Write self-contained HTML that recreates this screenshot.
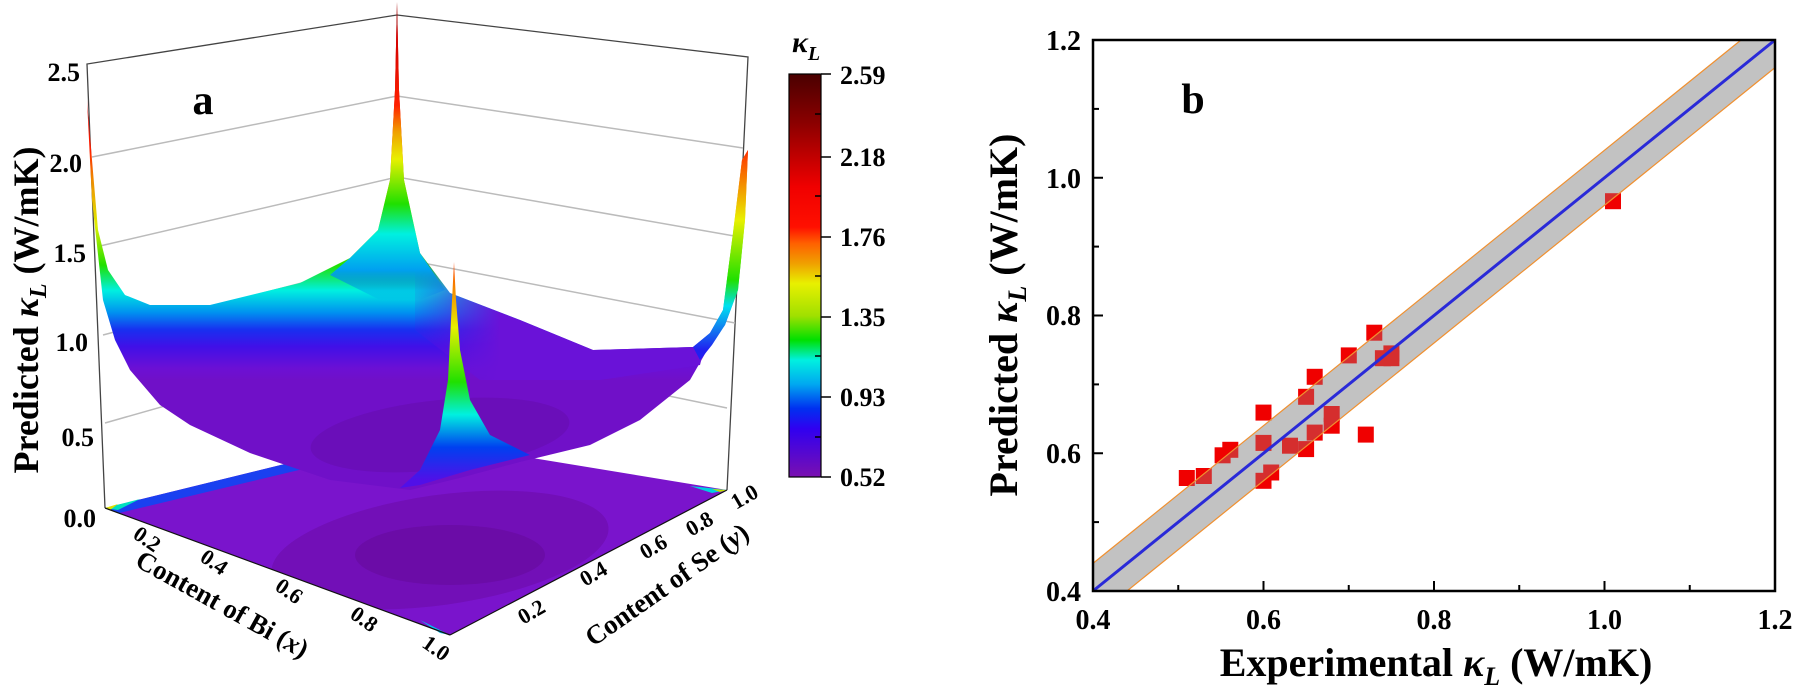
<!DOCTYPE html>
<html><head><meta charset="utf-8"><style>
html,body{margin:0;padding:0;background:#fff;}
svg, svg text{font-family:"Liberation Serif","Times New Roman",serif;font-weight:bold;}
</style></head><body>
<svg width="1797" height="693" viewBox="0 0 1797 693" xmlns="http://www.w3.org/2000/svg" font-family="Liberation Serif, serif" font-weight="bold">
<defs>
<linearGradient id="cb" x1="0" y1="0" x2="0" y2="1">
<stop offset="0" stop-color="#4a0000"/><stop offset="0.12" stop-color="#8a0000"/>
<stop offset="0.28" stop-color="#f00000"/><stop offset="0.38" stop-color="#ff1000"/>
<stop offset="0.42" stop-color="#ff6000"/><stop offset="0.47" stop-color="#f0a000"/>
<stop offset="0.52" stop-color="#e8f000"/><stop offset="0.6" stop-color="#a0e000"/>
<stop offset="0.66" stop-color="#00e000"/><stop offset="0.71" stop-color="#00f0e0"/>
<stop offset="0.77" stop-color="#00a8f0"/><stop offset="0.83" stop-color="#0030f0"/>
<stop offset="0.88" stop-color="#3000f0"/><stop offset="1" stop-color="#7a10b0"/>
</linearGradient>
<linearGradient id="gl" gradientUnits="userSpaceOnUse" x1="0" y1="100" x2="0" y2="380">
<stop offset="0" stop-color="#e00000"/><stop offset="0.18" stop-color="#ff2000"/>
<stop offset="0.27" stop-color="#f08000"/><stop offset="0.45" stop-color="#e0f000"/>
<stop offset="0.59" stop-color="#20e000"/><stop offset="0.68" stop-color="#00f0e0"/>
<stop offset="0.76" stop-color="#0090f0"/><stop offset="0.82" stop-color="#1830f0"/>
<stop offset="0.88" stop-color="#4010e8"/><stop offset="0.96" stop-color="#6c10d4"/>
<stop offset="1" stop-color="#7010c8"/>
</linearGradient>
<linearGradient id="gb" gradientUnits="userSpaceOnUse" x1="0" y1="0" x2="0" y2="300">
<stop offset="0" stop-color="#600000"/><stop offset="0.12" stop-color="#d00000"/>
<stop offset="0.35" stop-color="#ff2000"/><stop offset="0.44" stop-color="#f0a000"/>
<stop offset="0.53" stop-color="#e8f000"/><stop offset="0.68" stop-color="#20e000"/>
<stop offset="0.78" stop-color="#00f0e0"/><stop offset="0.9" stop-color="#00a0f0"/>
<stop offset="1" stop-color="#0060f0" stop-opacity="0"/>
</linearGradient>
<linearGradient id="gf" gradientUnits="userSpaceOnUse" x1="0" y1="262" x2="0" y2="480">
<stop offset="0" stop-color="#ff4000"/><stop offset="0.3" stop-color="#e8f000"/>
<stop offset="0.55" stop-color="#20e000"/><stop offset="0.7" stop-color="#00f0e0"/>
<stop offset="0.85" stop-color="#0040f0"/><stop offset="1" stop-color="#5010e8"/>
</linearGradient>
<linearGradient id="gr" gradientUnits="userSpaceOnUse" x1="0" y1="150" x2="0" y2="350">
<stop offset="0" stop-color="#ff3000"/><stop offset="0.35" stop-color="#e8f000"/>
<stop offset="0.65" stop-color="#20e000"/><stop offset="0.78" stop-color="#00e0f0"/>
<stop offset="1" stop-color="#2020f0"/>
</linearGradient>
<linearGradient id="gp" gradientUnits="userSpaceOnUse" x1="405" y1="0" x2="500" y2="0">
<stop offset="0" stop-color="#5a12e0" stop-opacity="0"/>
<stop offset="1" stop-color="#6a12d8" stop-opacity="1"/>
</linearGradient>
<clipPath id="fc"><polygon points="105,508 399,436 727,490 450,635"/></clipPath>
</defs>

<g stroke="#444" stroke-width="1.3" fill="none">
<polyline points="105,508 87,64 397,15 748,57 727,490"/>
</g>
<g stroke="#bbb" stroke-width="1.5" fill="none">
<polyline points="92,157 397,96 743,148"/>
<polyline points="100,246 397,177 740,237"/>
<polyline points="103,335 397,258 735,323"/>
<polyline points="105,423 397,340 727,408"/>
</g>

<polygon points="105,508 399,436 727,490 450,635" fill="#7a14cc"/>
<g clip-path="url(#fc)">
<ellipse cx="440" cy="550" rx="170" ry="55" fill="#6c0ca8" opacity="0.6" transform="rotate(-8 440 550)"/>
<ellipse cx="450" cy="555" rx="95" ry="30" fill="#640a98" opacity="0.5"/>
<polygon points="105,508 399,436 399,446 115,514" fill="#1a40f0"/>
</g>
<polygon points="105,508 140,499 118,510" fill="#00e0c0"/>
<polygon points="105,508 118,504 110,510" fill="#e0e000"/>
<polygon points="727,490 690,486 712,493" fill="#00d0e0"/>
<polygon points="727,490 712,489 720,492" fill="#c0e000"/>
<polygon points="450,635 420,620 440,633" fill="#00c0f0"/>

<path d="M87,100 L92,160 L98,230 L108,270 L125,295 L150,305 L210,305 L300,283 L350,258 L378,230 L390,180 L395,90 L397,2 L399,90 L404,180 L420,253 L450,293 L520,320 L593,350 L693,347 L710,333 L723,310 L733,233 L742,160 L748,150 L745,220 L738,290 L725,325 L710,345 L690,380 L640,420 L590,445 L520,462 L460,478 L410,490 L330,480 L250,453 L190,425 L160,405 L130,370 L115,340 L103,300 L92,200 Z" fill="url(#gl)"/>
<path d="M415,240 L420,253 L450,293 L520,320 L593,350 L693,347 L705,345 L700,365 L600,380 L480,380 L415,330 Z" fill="url(#gp)"/>
<path d="M330,275 L350,258 L378,230 L390,180 L395,90 L397,2 L399,90 L404,180 L420,253 L445,290 L420,300 L380,300 Z" fill="url(#gb)"/>
<path d="M693,347 L710,333 L723,310 L733,233 L742,160 L748,150 L745,220 L738,290 L725,325 L712,345 L700,360 Z" fill="url(#gr)"/>
<ellipse cx="440" cy="435" rx="130" ry="35" fill="#5e0a98" opacity="0.3" transform="rotate(-6 440 435)"/>
<path d="M454,262 L456,300 L460,350 L470,400 L490,435 L530,455 L470,470 L420,485 L400,488 L420,470 L440,430 L448,380 L451,320 Z" fill="url(#gf)"/>

<g stroke="#111" stroke-width="1.2">
<line x1="105" y1="508" x2="450" y2="635"/><line x1="450" y1="635" x2="727" y2="490"/>
</g>
<g font-size="22" fill="#000">
<text transform="translate(143,545) rotate(35)" text-anchor="middle">0.2</text>
<text transform="translate(210,568) rotate(35)" text-anchor="middle">0.4</text>
<text transform="translate(285,597) rotate(35)" text-anchor="middle">0.6</text>
<text transform="translate(360,625) rotate(35)" text-anchor="middle">0.8</text>
<text transform="translate(432,654) rotate(35)" text-anchor="middle">1.0</text>
<text transform="translate(535,618) rotate(-30)" text-anchor="middle">0.2</text>
<text transform="translate(597,580) rotate(-30)" text-anchor="middle">0.4</text>
<text transform="translate(657,553) rotate(-30)" text-anchor="middle">0.6</text>
<text transform="translate(703,530) rotate(-30)" text-anchor="middle">0.8</text>
<text transform="translate(748,503) rotate(-30)" text-anchor="middle">1.0</text>
</g>
<text transform="translate(218,612) rotate(29)" text-anchor="middle" font-size="27">Content of Bi (<tspan font-style="italic">x</tspan>)</text>
<text transform="translate(672,592) rotate(-35)" text-anchor="middle" font-size="27">Content of Se (<tspan font-style="italic">y</tspan>)</text>

<g font-size="26" text-anchor="end">
<text x="80" y="81">2.5</text><text x="82" y="172">2.0</text><text x="86" y="262">1.5</text>
<text x="88" y="351">1.0</text><text x="94" y="446">0.5</text><text x="96" y="527">0.0</text>
</g>
<text transform="translate(38,310) rotate(-90)" text-anchor="middle" font-size="36">Predicted <tspan font-style="italic">κ</tspan><tspan font-style="italic" font-size="24" dy="8">L</tspan><tspan dy="-8"> (W/mK)</tspan></text>
<text x="203" y="114" font-size="42" text-anchor="middle">a</text>

<rect x="789" y="74" width="32" height="403" fill="url(#cb)" stroke="#000" stroke-width="1.2"/>
<g stroke="#000" stroke-width="1.5">
<line x1="821" y1="74" x2="831" y2="74"/><line x1="821" y1="157" x2="831" y2="157"/>
<line x1="821" y1="237" x2="831" y2="237"/><line x1="821" y1="317" x2="831" y2="317"/>
<line x1="821" y1="397" x2="831" y2="397"/><line x1="821" y1="477" x2="831" y2="477"/>
<line x1="815" y1="114" x2="821" y2="114"/><line x1="815" y1="196" x2="821" y2="196"/>
<line x1="815" y1="276" x2="821" y2="276"/><line x1="815" y1="356" x2="821" y2="356"/>
<line x1="815" y1="437" x2="821" y2="437"/>
</g>
<g font-size="26">
<text x="840" y="84">2.59</text><text x="840" y="166">2.18</text><text x="840" y="246">1.76</text>
<text x="840" y="326">1.35</text><text x="840" y="406">0.93</text><text x="840" y="486">0.52</text>
</g>
<text x="792" y="52" font-size="30" font-style="italic">κ<tspan font-size="20" dy="8">L</tspan></text>

<polygon points="1093,591 1093,563.4 1741,40 1775,40 1775,67.6 1127,591" fill="#d4d4d4"/>
<g fill="#f00000">
<rect x="1178.8" y="470" width="16" height="16"/><rect x="1195.8" y="468" width="16" height="16"/>
<rect x="1214.6" y="447.3" width="16" height="16"/><rect x="1222.3" y="441.8" width="16" height="16"/>
<rect x="1255.5" y="404.6" width="16" height="16"/><rect x="1255.5" y="434.9" width="16" height="16"/>
<rect x="1255.5" y="472.8" width="16" height="16"/><rect x="1263.2" y="464.5" width="16" height="16"/>
<rect x="1282" y="437.7" width="16" height="16"/><rect x="1298.1" y="441.1" width="16" height="16"/>
<rect x="1298.1" y="388.8" width="16" height="16"/><rect x="1306.7" y="368.8" width="16" height="16"/>
<rect x="1306.7" y="424.6" width="16" height="16"/><rect x="1323.7" y="406" width="16" height="16"/>
<rect x="1323.7" y="417.7" width="16" height="16"/><rect x="1357.8" y="426.6" width="16" height="16"/>
<rect x="1340.8" y="347.4" width="16" height="16"/><rect x="1366.3" y="324.7" width="16" height="16"/>
<rect x="1374.9" y="350.2" width="16" height="16"/><rect x="1383.4" y="345.4" width="16" height="16"/>
<rect x="1383.4" y="350.2" width="16" height="16"/><rect x="1605" y="193.2" width="16" height="16"/>
</g>
<polygon points="1093,591 1093,563.4 1741,40 1775,40 1775,67.6 1127,591" fill="#999" opacity="0.3"/>
<line x1="1093" y1="563.4" x2="1741" y2="40" stroke="#f09030" stroke-width="1.2"/>
<line x1="1127" y1="591" x2="1775" y2="67.6" stroke="#f09030" stroke-width="1.2"/>
<line x1="1093" y1="591" x2="1775" y2="40" stroke="#2a2ad8" stroke-width="3"/>
<rect x="1093" y="40" width="682" height="551" fill="none" stroke="#000" stroke-width="2.5"/>
<g stroke="#000" stroke-width="2">
<line x1="1263.5" y1="591" x2="1263.5" y2="581"/><line x1="1434" y1="591" x2="1434" y2="581"/>
<line x1="1604.5" y1="591" x2="1604.5" y2="581"/>
<line x1="1178.25" y1="591" x2="1178.25" y2="585"/><line x1="1348.75" y1="591" x2="1348.75" y2="585"/>
<line x1="1519.25" y1="591" x2="1519.25" y2="585"/><line x1="1689.75" y1="591" x2="1689.75" y2="585"/>
<line x1="1093" y1="453.25" x2="1103" y2="453.25"/><line x1="1093" y1="315.5" x2="1103" y2="315.5"/>
<line x1="1093" y1="177.75" x2="1103" y2="177.75"/>
<line x1="1093" y1="522.1" x2="1099" y2="522.1"/><line x1="1093" y1="384.4" x2="1099" y2="384.4"/>
<line x1="1093" y1="246.6" x2="1099" y2="246.6"/><line x1="1093" y1="108.9" x2="1099" y2="108.9"/>
</g>
<g font-size="28" text-anchor="middle">
<text x="1093" y="629">0.4</text><text x="1263.5" y="629">0.6</text><text x="1434" y="629">0.8</text>
<text x="1604.5" y="629">1.0</text><text x="1775" y="629">1.2</text>
</g>
<g font-size="28" text-anchor="end">
<text x="1081" y="601">0.4</text><text x="1081" y="463">0.6</text><text x="1081" y="325">0.8</text>
<text x="1081" y="188">1.0</text><text x="1081" y="50">1.2</text>
</g>
<text x="1436" y="676" font-size="40" text-anchor="middle">Experimental <tspan font-style="italic">κ</tspan><tspan font-style="italic" font-size="26" dy="9">L</tspan><tspan dy="-9"> (W/mK)</tspan></text>
<text transform="translate(1017,315) rotate(-90)" font-size="40" text-anchor="middle">Predicted <tspan font-style="italic">κ</tspan><tspan font-style="italic" font-size="26" dy="9">L</tspan><tspan dy="-9"> (W/mK)</tspan></text>
<text x="1193" y="113" font-size="42" text-anchor="middle">b</text>
</svg>
</body></html>
